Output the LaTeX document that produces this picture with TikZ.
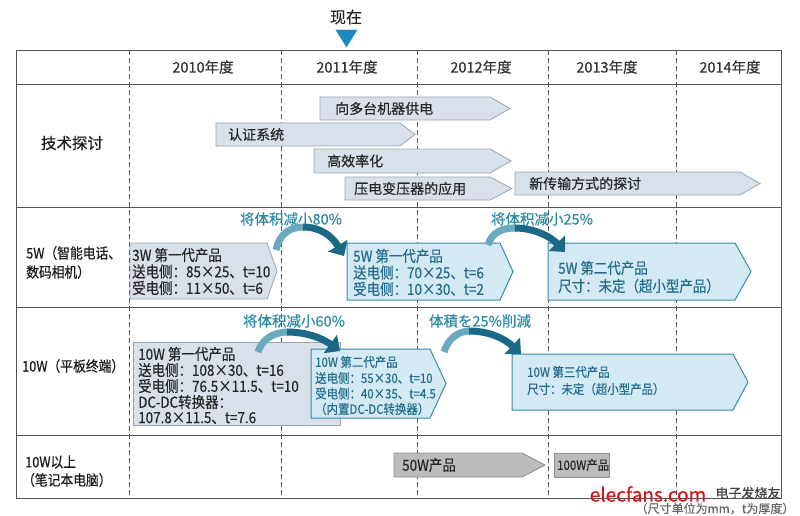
\documentclass[tikz,border=0pt]{standalone}
\usepackage{fontspec}
\setmainfont{Noto Sans CJK SC}[FakeBold=0.4]
\newfontfamily\condfont{Noto Sans CJK SC}[FakeStretch=0.88,FakeBold=0.4]
\usetikzlibrary{arrows.meta}
\definecolor{techfill}{HTML}{D8E1E9}
\definecolor{techdraw}{HTML}{9AA6B0}
\definecolor{tealfill}{HTML}{D3EAF4}
\definecolor{tealdraw}{HTML}{3C89A8}
\definecolor{tealtext}{HTML}{236C8C}
\definecolor{labeltext}{HTML}{2F8AA6}
\definecolor{grayfill}{HTML}{BBBCBE}
\definecolor{graydraw}{HTML}{8E8F91}
\definecolor{nowblue}{HTML}{1A8ABD}
\definecolor{arrlight}{HTML}{6BA9C1}
\definecolor{arrdark}{HTML}{1C6887}
\definecolor{gridline}{HTML}{555555}
\definecolor{wmred}{HTML}{D0161B}
\newcommand\sigbox[6]{\filldraw[#1] (#2,#4) -- (#3,#4) -- (#5,{(#4+#6)/2}) -- (#3,#6) -- (#2,#6) -- cycle;}
\tikzset{
  tx/.style={anchor=west, inner sep=0pt, font=\fontsize{14}{16}\selectfont, text=black!85},
  ctx/.style={anchor=west, inner sep=0pt, font=\condfont\fontsize{15.3}{16}\selectfont, text=black!85},
  cttx/.style={ctx, text=tealtext},
  smtx/.style={anchor=west, inner sep=0pt, font=\condfont\fontsize{13}{14}\selectfont, text=tealtext},
  hdr/.style={inner sep=0pt, font=\fontsize{14.5}{16}\selectfont, text=black!80},
  rowlbl/.style={anchor=west, inner sep=0pt, font=\condfont\fontsize{14.5}{16}\selectfont, text=black!90},
  lbl/.style={inner sep=0pt, font=\fontsize{14.5}{16}\selectfont, text=labeltext},
  techbox/.style={fill=techfill, draw=techdraw, line width=0.8pt},
  tealbox/.style={fill=tealfill, draw=tealdraw, line width=1pt},
  graybox/.style={fill=grayfill, draw=graydraw, line width=0.8pt},
  oldbox/.style={fill=techfill, draw=techdraw, line width=0.8pt},
  arrtail/.style={line width=7pt, draw=arrlight},
  arrhead/.style={line width=7pt, draw=arrdark, -{Triangle[width=22pt,length=12pt]}},
  grid/.style={draw=gridline, line width=0.9pt},
  vgrid/.style={draw=gridline, line width=0.8pt, dash pattern=on 5pt off 3pt}
}
\begin{document}
\begin{tikzpicture}[x=1pt,y=-1pt]
\path[use as bounding box, fill=white] (0,0) rectangle (800,516);

% "now" marker
\node[inner sep=0pt, font=\fontsize{16}{18}\selectfont, text=black!85] (now) at (346,17) {现在};
\filldraw[fill=nowblue, draw=nowblue] (336,30) -- (357,30) -- (346.5,47) -- cycle;

% table grid
\foreach \xx in {129,281,417,548,676} \draw[vgrid] (\xx,50) -- (\xx,498);
\draw[grid] (16,50) rectangle (781,498);
\foreach \yy in {84,207,307,435} \draw[grid] (16,\yy) -- (781,\yy);

% header
\node[hdr] (y2010) at (203,67) {2010年度};
\node[hdr] (y2011) at (347,67) {2011年度};
\node[hdr] (y2012) at (481,67) {2012年度};
\node[hdr] (y2013) at (607,67) {2013年度};
\node[hdr] (y2014) at (730,67) {2014年度};

% row labels
\node[inner sep=0pt, font=\fontsize{15.5}{17}\selectfont, text=black!90] (tech) at (72,143) {技术探讨};
\node[rowlbl] (r5a) at (26,253) {5W（智能电话、};
\node[rowlbl] (r5b) at (26,272) {数码相机）};
\node[rowlbl] (r10) at (22,366) {10W（平板终端）};
\node[rowlbl] (r10pa) at (25,462) {10W以上};
\node[rowlbl] (r10pb) at (22,480) {（笔记本电脑）};

% technology row
\sigbox{techbox}{320}{490}{97}{510}{120}
\node[tx] (t1) at (335,108.5) {向多台机器供电};
\sigbox{techbox}{216}{400}{123}{415}{146}
\node[tx] (t2) at (228,134.5) {认证系统};
\sigbox{techbox}{314}{490}{149}{511}{173}
\node[tx] (t3) at (327,161) {高效率化};
\sigbox{techbox}{345}{490}{177}{512}{200}
\node[tx] (t4) at (354,188.5) {压电变压器的应用};
\sigbox{techbox}{515}{740}{172}{760}{195}
\node[tx] (t5) at (529,183.5) {新传输方式的探讨};

% 5W row
\sigbox{oldbox}{130}{267}{243}{277}{299}
\node[ctx] (a1) at (132,255) {3W 第一代产品};
\node[ctx] (a2) at (132,271.5) {送电侧：85×25、t=10};
\node[ctx] (a3) at (132,288) {受电侧：11×50、t=6};
\sigbox{tealbox}{347}{500}{243}{513}{300}
\node[cttx] (b1) at (353,256) {5W 第一代产品};
\node[cttx] (b2) at (353,272.5) {送电侧：70×25、t=6};
\node[cttx] (b3) at (353,289) {受电侧：10×30、t=2};
\sigbox{tealbox}{548}{735}{243}{751}{300}
\node[cttx] (c1) at (558,268) {5W 第二代产品};
\node[cttx] (c2) at (558,286) {尺寸：未定（超小型产品）};

\node[lbl] (l80) at (291,219) {将体积减小80\%};
\node[lbl] (l25) at (542,219) {将体积减小25\%};
\coordinate (p1t) at (276,250);
\coordinate (p1p) at (304,227);
\coordinate (p1h) at (344,256);
\draw[arrtail] (p1t) .. controls (280,233) and (290,227) .. (p1p);
\draw[arrhead] (303,227) .. controls (320,227) and (332,236) .. (p1h);
\coordinate (p2t) at (488,245);
\coordinate (p2p) at (516,228);
\coordinate (p2h) at (565,252);
\draw[arrtail] (p2t) .. controls (492,232) and (502,228) .. (p2p);
\draw[arrhead] (515,228) .. controls (533,228) and (550,236) .. (p2h);

% 10W row
\draw[oldbox] (133,342) rectangle (340,425);
\node[ctx] (d1) at (138,354) {10W 第一代产品};
\node[ctx] (d2) at (138,370) {送电侧：108×30、t=16};
\node[ctx] (d3) at (138,386) {受电侧：76.5×11.5、t=10};
\node[ctx] (d4) at (138,402) {DC-DC转换器：};
\node[ctx] (d5) at (138,418) {107.8×11.5、t=7.6};
\sigbox{tealbox}{311}{430}{349}{446}{418}
\node[smtx] (e1) at (315,362) {10W 第二代产品};
\node[smtx] (e2) at (315,378) {送电侧：55×30、t=10};
\node[smtx] (e3) at (315,393.5) {受电侧：40×35、t=4.5};
\node[smtx] (e4) at (315,409) {（内置DC-DC转换器）};
\sigbox{tealbox}{512}{733}{354}{748}{410}
\node[smtx] (f1) at (527,372) {10W 第三代产品};
\node[smtx] (f2) at (527,389) {尺寸：未定（超小型产品）};

\node[lbl] (l60) at (294,321) {将体积减小60\%};
\node[lbl] (ljp) at (480,321) {体積を25\%削減};
\coordinate (p3t) at (258,352);
\coordinate (p3p) at (288,332);
\coordinate (p3h) at (340,351);
\draw[arrtail] (p3t) .. controls (262,339) and (274,332) .. (p3p);
\draw[arrhead] (287,332) .. controls (306,332) and (322,338) .. (p3h);
\coordinate (p4t) at (444,352);
\coordinate (p4p) at (470,331);
\coordinate (p4h) at (521,354);
\draw[arrtail] (p4t) .. controls (448,339) and (458,331) .. (p4p);
\draw[arrhead] (469,331) .. controls (488,331) and (504,338) .. (p4h);

% >10W row
\sigbox{graybox}{394}{522}{453}{545}{477}
\node[ctx] (g1) at (402,465) {50W产品};
\draw[graybox] (554,453) rectangle (609,477);
\node[ctx, font=\condfont\fontsize{13}{15}\selectfont] (g2) at (557,465) {100W产品};

% footnote and source mark
\node[inner sep=0pt, font=\fontsize{12}{13}\selectfont, text=black!60] (note) at (715,508.5) {（尺寸单位为mm，t为厚度）};
\node[inner sep=0pt, font=\fontsize{19}{21}\selectfont, text=wmred] (wm1) at (648,494) {elecfans.com};
\node[inner sep=0pt, font=\fontsize{13}{14}\selectfont, text=black!75] (wm2) at (748,493) {电子发烧友};
\end{tikzpicture}
\end{document}
